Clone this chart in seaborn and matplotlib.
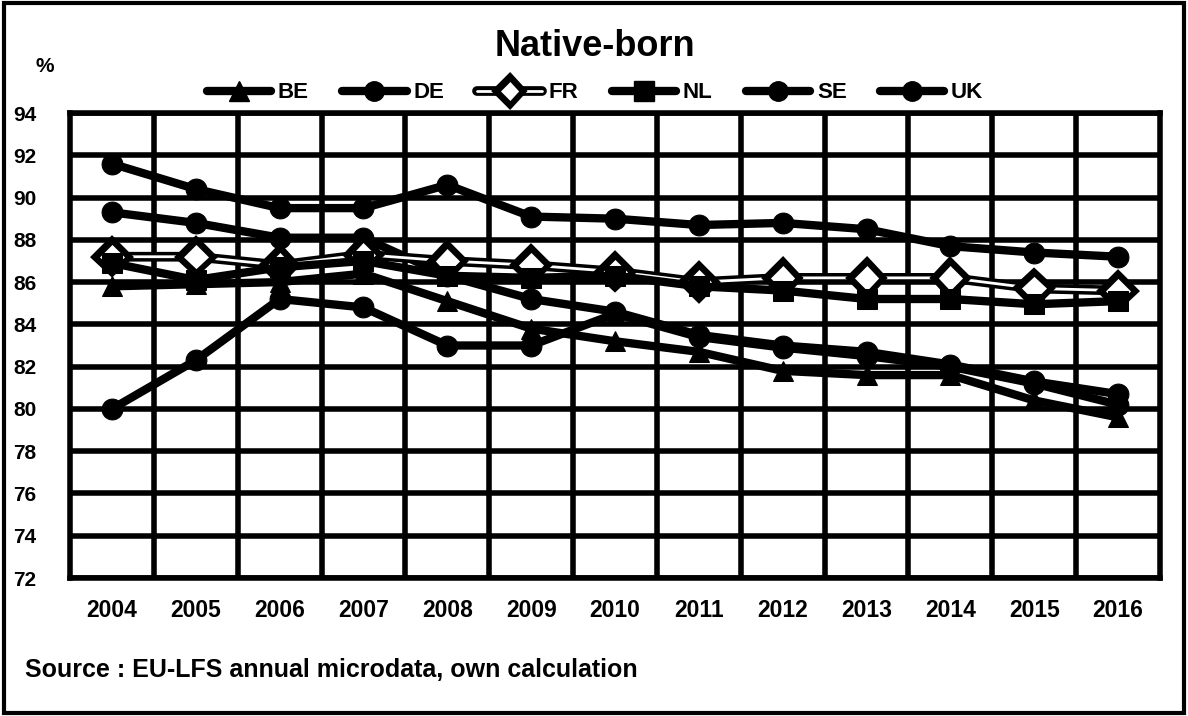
import matplotlib
matplotlib.use("Agg")
import matplotlib.pyplot as plt
import matplotlib.patheffects as pe
from matplotlib.lines import Line2D
from matplotlib.patches import Rectangle
import pandas as pd
import seaborn as sns

years = [2004, 2005, 2006, 2007, 2008, 2009, 2010, 2011, 2012, 2013, 2014, 2015, 2016]
countries = ["BE", "DE", "FR", "NL", "SE", "UK"]

be = [85.8, 85.9, 86.0, 86.4, 85.1, 83.8, 83.2, 82.7, 81.8, 81.6, 81.6, 80.4, 79.6]
de = [89.3, 88.8, 88.1, 88.1, 86.3, 85.2, 84.6, 83.5, 83.0, 82.7, 82.1, 81.3, 80.7]
fr = [87.2, 87.2, 86.8, 87.3, 87.0, 86.8, 86.5, 86.0, 86.2, 86.2, 86.2, 85.7, 85.6]
nl = [86.9, 86.1, 86.7, 87.0, 86.3, 86.2, 86.3, 85.8, 85.6, 85.2, 85.2, 84.95, 85.1]
se = [91.6, 90.4, 89.5, 89.5, 90.6, 89.1, 89.0, 88.7, 88.8, 88.5, 87.7, 87.4, 87.2]
uk = [80.0, 82.3, 85.2, 84.8, 83.0, 83.0, 84.5, 83.4, 82.9, 82.5, 82.0, 81.2, 80.2]

y_ticks = [72, 74, 76, 78, 80, 82, 84, 86, 88, 90, 92, 94]

series = dict(zip(countries, [be, de, fr, nl, se, uk]))
df = pd.DataFrame(
    [(i, c, v) for c, vals in series.items() for i, v in enumerate(vals)],
    columns=["pos", "country", "value"],
)

sns.set_style("white")
plt.rcParams["font.family"] = ["Liberation Sans", "DejaVu Sans"]
plt.rcParams["font.weight"] = "bold"
plt.rcParams["text.color"] = "black"
plt.rcParams["xtick.color"] = "black"
plt.rcParams["ytick.color"] = "black"

fig = plt.figure(figsize=(11.88, 7.16), dpi=100)
ax = fig.add_axes([70 / 1188, 1 - 578 / 716, 1090 / 1188, 465 / 716])

markers = {"BE": "^", "DE": "o", "FR": "D", "NL": "s", "SE": "o", "UK": "o"}
palette = {c: "black" for c in countries}
sns.lineplot(
    data=df, x="pos", y="value", hue="country", style="country",
    markers=markers, dashes=False, palette=palette, linewidth=6,
    markersize=15, markeredgecolor="black", legend=False, ax=ax, zorder=3,
)

# FR is drawn as an outlined (hollow) line
hollow = [pe.Stroke(linewidth=7, foreground="black"), pe.Normal()]
fr_line = ax.get_lines()[countries.index("FR")]
fr_line.set_color("white")
fr_line.set_linewidth(2)
fr_line.set_markerfacecolor("white")
fr_line.set_markeredgecolor("black")
fr_line.set_markeredgewidth(2.5)
fr_line.set_path_effects(hollow)

ax.set_xlim(-0.5, len(years) - 0.5)
ax.set_ylim(72, 94)
ax.set_yticks(y_ticks)
ax.set_yticklabels([str(t) for t in y_ticks], fontsize=15, fontweight="bold")
ax.set_xticks(range(len(years)))
ax.set_xticklabels([str(y) for y in years], fontsize=16.5, fontweight="bold")
ax.set_xticks([i + 0.5 for i in range(len(years) - 1)], minor=True)
ax.tick_params(axis="both", which="both", length=0)
ax.tick_params(axis="x", pad=15)
ax.tick_params(axis="y", pad=24)
ax.grid(axis="y", which="major", color="black", linewidth=4)
ax.grid(axis="x", which="minor", color="black", linewidth=4)
ax.grid(axis="x", which="major", visible=False)
ax.set_axisbelow(True)
for s in ax.spines.values():
    s.set_color("black")
    s.set_linewidth(4)
ax.set_xlabel("")
ax.set_ylabel("")

fig.text(595 / 1188, 1 - 47 / 716, "Native-born", ha="center", va="center",
         fontsize=26, fontweight="bold")
fig.text(45 / 1188, 1 - 66 / 716, "%", ha="center", va="center",
         fontsize=15, fontweight="bold")
fig.text(25 / 1188, 1 - 670 / 716, "Source : EU-LFS annual microdata, own calculation",
         ha="left", va="center", fontsize=18, fontweight="bold")

handles = []
for c in countries:
    if c == "FR":
        h = Line2D([], [], color="white", linewidth=2, marker="D", markersize=12,
                   markerfacecolor="white", markeredgecolor="black", markeredgewidth=2.5,
                   path_effects=hollow)
    else:
        h = Line2D([], [], color="black", linewidth=6, marker=markers[c], markersize=14)
    handles.append(h)
fig.legend(handles, countries, loc="center", bbox_to_anchor=(595 / 1188, 1 - 93 / 716),
           ncol=6, frameon=False, handlelength=2.9, columnspacing=1.5, handletextpad=0.3,
           prop={"size": 16, "weight": "bold"})

fig.patches.append(Rectangle((0.003, 0.004), 0.994, 0.992, transform=fig.transFigure,
                             fill=False, edgecolor="black", linewidth=3))

fig.savefig("out.png", dpi=100, facecolor="white")
